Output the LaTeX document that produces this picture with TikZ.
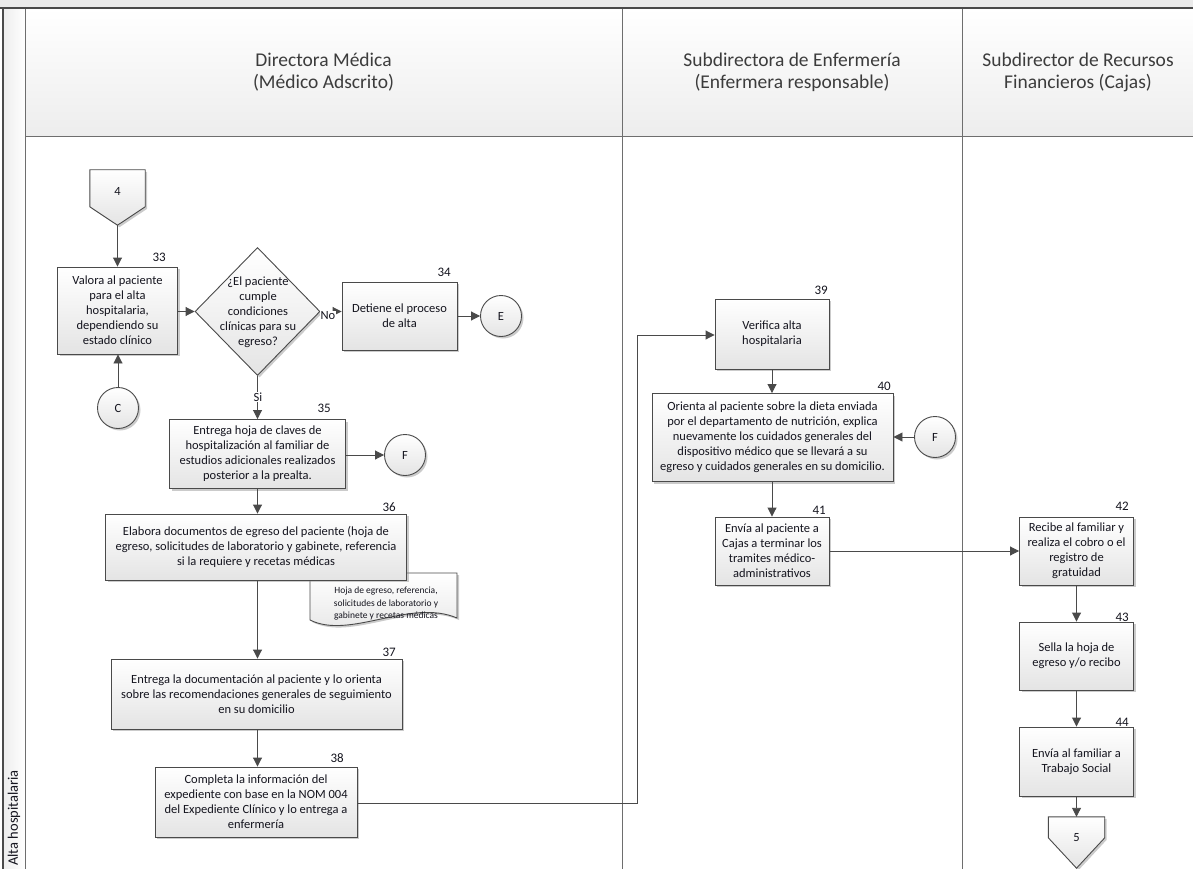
\documentclass[tikz,border=0pt]{standalone}
\usepackage{fontspec}
\setmainfont{Carlito}
\usetikzlibrary{arrows.meta,shapes.geometric,shadows,calc}
\definecolor{ln}{HTML}{4A4A4A}
\definecolor{lanec}{HTML}{6E6E6E}
\definecolor{txt}{HTML}{14141E}
\definecolor{hdrt}{HTML}{3C3C3C}
\definecolor{boxg}{HTML}{E4E4E4}
\definecolor{hdrg}{HTML}{EDEDED}
\definecolor{stripg}{HTML}{EBEBEB}
\tikzset{
  frame/.style={draw=ln, line width=1.4pt},
  laneline/.style={draw=lanec, line width=1pt},
  shd/.style={drop shadow={shadow xshift=2pt, shadow yshift=-2pt, fill=black!45, opacity=0.45}},
  stepbox/.style={draw=ln, line width=0.9pt, top color=white, bottom color=boxg, shd,
    align=center, text=txt, inner sep=1pt, font=\fontsize{12.5}{15}\selectfont},
  conn/.style={circle, draw=ln, line width=0.9pt, top color=white, bottom color=boxg, shd,
    minimum size=41pt, inner sep=0pt, text=txt, font=\fontsize{12.5}{14}\selectfont},
  shapestyle/.style={draw=ln, line width=0.9pt, top color=white, bottom color=boxg, shd},
  arr/.style={draw=ln, line width=0.9pt, -{Triangle[length=9pt,width=9pt]}},
  num/.style={text=txt, font=\fontsize{13}{15}\selectfont, inner sep=0pt, anchor=east},
  hdr/.style={text=hdrt, align=center, font=\fontsize{19.5}{22}\selectfont},
  lbl/.style={text=txt, fill=white, inner sep=0.5pt, font=\fontsize{12.5}{14}\selectfont},
}
\begin{document}
\begin{tikzpicture}[x=1pt,y=-1pt]
\useasboundingbox (0,0) rectangle (1193,869);
% background frame
\fill[stripg] (0,0) rectangle (1193,8);
\shade[top color=white, bottom color=hdrg] (25,8) rectangle (1193,137);
\shade[left color=hdrg, right color=white] (3,8) rectangle (25,869);
\draw[laneline] (25,8) -- (25,869);
\draw[laneline] (25,137) -- (1193,137);
\draw[laneline] (622,8) -- (622,869);
\draw[laneline] (962,8) -- (962,869);
\draw[frame] (0,8) -- (1193,8);
\draw[frame] (3,8) -- (3,869);
% headers
\node[hdr] (h1) at (323.5,72) {Directora Médica\\(Médico Adscrito)};
\node[hdr] (h2) at (792,72) {Subdirectora de Enfermería\\(Enfermera responsable)};
\node[hdr] (h3) at (1078,72) {Subdirector de Recursos\\Financieros (Cajas)};
\node[text=txt, rotate=90, anchor=west, inner sep=0pt, font=\fontsize{14.5}{16}\selectfont] (lane) at (14,866) {Alta hospitalaria};
% off-page connector 4
\node[minimum width=55pt, minimum height=55pt, inner sep=0pt] (p4) at (117.5,197.5) {};
\draw[shapestyle] (p4.north west) -- (p4.north east) -- ($(p4.north east)+(0,37)$) -- (p4.south) -- ($(p4.north west)+(0,37)$) -- cycle;
\node[text=txt, font=\fontsize{12.5}{14}\selectfont] (t4) at ($(p4.north)+(0,22)$) {4};
% left lane
\node[stepbox, minimum width=120pt, minimum height=87pt] (b33) at (117.5,310.5) {Valora al paciente\\para el alta\\hospitalaria,\\dependiendo su\\estado clínico};
\node[num] (n33) at (166,257) {33};
\node[conn] (cC) at (118,408) {C};
\node[diamond, shapestyle, minimum width=125pt, minimum height=128pt, inner sep=0pt] (d) at (257.5,311.5) {};
\node[align=center, text=txt, font=\fontsize{12.5}{15}\selectfont, inner sep=0pt] (dt) at (258,312) {¿El paciente\\cumple\\condiciones\\clínicas para su\\egreso?};
\node[stepbox, minimum width=115pt, minimum height=68pt] (b34) at (399.5,316) {Detiene el proceso\\de alta};
\node[num] (n34) at (451,272) {34};
\node[conn] (cE) at (501,316) {E};
\node[stepbox, minimum width=176pt, minimum height=69pt] (b35) at (257.5,454) {Entrega hoja de claves de\\hospitalización al familiar de\\estudios adicionales realizados\\posterior a la prealta.};
\node[num] (n35) at (331,408) {35};
\node[conn] (cF1) at (405,455) {F};
% document
\draw[shapestyle] (310,573) -- (457,573) -- (457,618) .. controls (410,598) and (350,640) .. (310,620) -- cycle;
\node[align=center, text=txt, font=\fontsize{9.5}{12.5}\selectfont, inner sep=0pt] (doc) at (386,604) {Hoja de egreso, referencia,\\solicitudes de laboratorio y\\gabinete y recetas médicas};
\node[stepbox, minimum width=301pt, minimum height=66pt] (b36) at (256,547) {Elabora documentos de egreso del paciente (hoja de\\egreso, solicitudes de laboratorio y gabinete, referencia\\si la requiere y recetas médicas};
\node[num] (n36) at (396,507) {36};
\node[stepbox, minimum width=291pt, minimum height=70pt] (b37) at (256.5,694) {Entrega la documentación al paciente y lo orienta\\sobre las recomendaciones generales de seguimiento\\en su domicilio};
\node[num] (n37) at (396,652) {37};
\node[stepbox, minimum width=202pt, minimum height=70pt] (b38) at (256,802) {Completa la información del\\expediente con base en la NOM 004\\del Expediente Clínico y lo entrega a\\enfermería};
\node[num] (n38) at (344,758) {38};
% middle lane
\node[stepbox, minimum width=114pt, minimum height=70pt] (b39) at (772,334) {Verifica alta\\hospitalaria};
\node[num] (n39) at (828,290) {39};
\node[stepbox, minimum width=241pt, minimum height=88pt] (b40) at (772.5,437.5) {Orienta al paciente sobre la dieta enviada\\por el departamento de nutrición, explica\\nuevamente los cuidados generales del\\dispositivo médico que se llevará a su\\egreso y cuidados generales en su domicilio.};
\node[num] (n40) at (891,386) {40};
\node[conn] (cF2) at (935,437) {F};
\node[stepbox, minimum width=114pt, minimum height=68pt] (b41) at (772,551) {Envía al paciente a\\Cajas a terminar los\\tramites médico-\\administrativos};
\node[num] (n41) at (826,510) {41};
% right lane
\node[stepbox, minimum width=114pt, minimum height=68pt] (b42) at (1076.5,551) {Recibe al familiar y\\realiza el cobro o el\\registro de\\gratuidad};
\node[num] (n42) at (1129,506) {42};
\node[stepbox, minimum width=114pt, minimum height=68pt] (b43) at (1076.5,656) {Sella la hoja de\\egreso y/o recibo};
\node[num] (n43) at (1129,617) {43};
\node[stepbox, minimum width=114pt, minimum height=69pt] (b44) at (1076.5,761.5) {Envía al familiar a\\Trabajo Social};
\node[num] (n44) at (1129,722) {44};
\node[minimum width=56pt, minimum height=51pt, inner sep=0pt] (p5) at (1076.5,842.5) {};
\draw[shapestyle] (p5.north west) -- (p5.north east) -- ($(p5.north east)+(0,21)$) -- (p5.south) -- ($(p5.north west)+(0,21)$) -- cycle;
\node[text=txt, font=\fontsize{12.5}{14}\selectfont] (t5) at ($(p5.north)+(0,21)$) {5};
% connectors
\draw[arr] (p4.south) -- (p4.south |- b33.north);
\draw[arr] (cC) -- (cC |- b33.south);
\draw[arr] (b33.east |- d.west) -- (d.west);
\draw[arr] (d.east) -- (d.east -| b34.west);
\node[lbl] (no) at (328,316) {No};
\draw[arr] (b34.east) -- (cE);
\draw[arr] (d.south) -- (d.south |- b35.north);
\node[lbl] (si) at (258,397) {Si};
\draw[arr] (b35.east |- cF1) -- (cF1);
\draw[arr] (b35.south) -- (b35.south |- b36.north);
\draw[arr] (b35.south |- b36.south) -- (b35.south |- b37.north);
\draw[arr] (b35.south |- b37.south) -- (b35.south |- b38.north);
\coordinate (k1) at (637,803);
\coordinate (k2) at (637,335);
\draw[arr] (b38.east |- k1) -- (k1) -- (k2) -- (k2 -| b39.west);
\draw[arr] (b39.south) -- (b39.south |- b40.north);
\draw[arr] (cF2) -- (cF2 -| b40.east);
\draw[arr] (b39.south |- b40.south) -- (b39.south |- b41.north);
\draw[arr] (b41.east) -- (b41.east -| b42.west);
\draw[arr] (b42.south) -- (b43.north);
\draw[arr] (b43.south) -- (b44.north);
\draw[arr] (b44.south) -- (p5.north);
\end{tikzpicture}
\end{document}
